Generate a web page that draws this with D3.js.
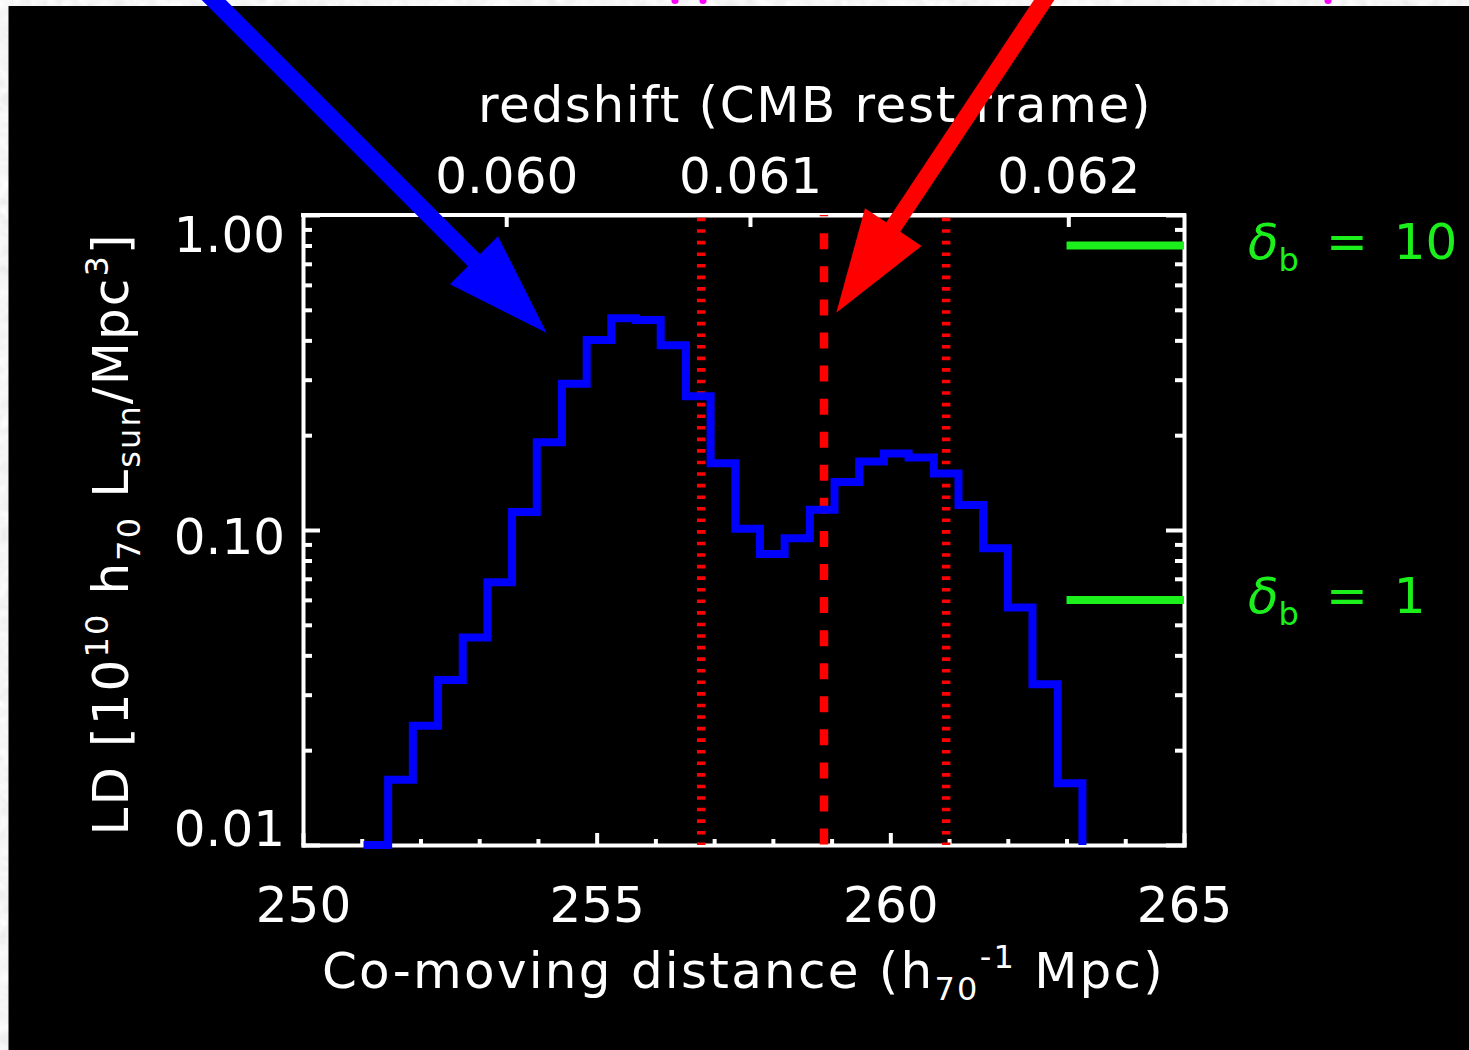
<!DOCTYPE html>
<html>
<head>
<meta charset="utf-8">
<script src="https://cdn.jsdelivr.net/npm/d3@7"></script>
<style>
  html, body { margin: 0; padding: 0; background: #000; }
  svg { display: block; }
</style>
</head>
<body>
<svg id="chart" width="1469" height="1050"></svg>
<script>
// Luminosity density along the line of sight, binned in co-moving distance (h70^-1 Mpc)
const binEdges = [251.03, 251.45, 251.87, 252.30, 252.72, 253.14, 253.56, 253.98, 254.41, 254.83,
                  255.25, 255.67, 256.09, 256.52, 256.94, 257.36, 257.78, 258.20, 258.63, 259.05,
                  259.47, 259.89, 260.31, 260.74, 261.16, 261.58, 262.00, 262.42, 262.85, 263.27];
const luminosityDensity = [0.010, 0.0161, 0.0239, 0.0334, 0.0456, 0.0682, 0.114, 0.190, 0.291, 0.401,
                           0.470, 0.464, 0.386, 0.266, 0.163, 0.101, 0.0839, 0.0941, 0.116, 0.142,
                           0.165, 0.175, 0.170, 0.151, 0.120, 0.0875, 0.0568, 0.0324, 0.0157];

// Bottom axis: co-moving distance
const distanceTicks = [250, 255, 260, 265];
const distanceMinorTicks = [251, 252, 253, 254, 256, 257, 258, 259, 261, 262, 263, 264];

// Left/right axis: luminosity density (log)
const ldTicks = [0.01, 0.1, 1];
const ldTickLabels = ["0.01", "0.10", "1.00"];
const ldMinorTicks = [0.02, 0.03, 0.04, 0.05, 0.06, 0.07, 0.08, 0.09,
                      0.2, 0.3, 0.4, 0.5, 0.6, 0.7, 0.8, 0.9];

// Top axis: redshift in the CMB rest frame and the distance at which each tick sits
const redshiftTicks = [0.060, 0.061, 0.062];
const redshiftTickLabels = ["0.060", "0.061", "0.062"];
const redshiftTickDistance = [253.46, 257.61, 263.03];

// Vertical markers: supercluster centre (dashed) and its extent (dotted)
const markerDistance = [256.78, 258.87, 260.95];
const markerKind = ["dotted", "dashed", "dotted"];

// Overdensity reference levels
const overdensityLabels = ["10", "1"];
const overdensityLD = [0.80, 0.060];
const overdensityStart = 263.0;

// Pointer arrows: tip position (distance, LD) and heading in degrees
const arrowTipDistance = [254.15, 259.08];
const arrowTipLD = [0.422, 0.489];
const arrowHeading = [45, 123.6];
const arrowColor = ["#0000ff", "#ff0000"];

const W = 1469, H = 1050;
const FONT = "'DejaVu Sans', sans-serif";
const svg = d3.select("#chart");

const x = d3.scaleLinear().domain([250, 265]).range([303, 1184]);
const y = d3.scaleLog().domain([0.01, 1]).range([845, 215]);
const xTop = d3.scaleLinear().domain(redshiftTicks).range(redshiftTickDistance.map(x));

// Mottled grey frame behind the black panel
const defs = svg.append("defs");
const grain = defs.append("filter").attr("id", "grain").attr("x", 0).attr("y", 0).attr("width", 1).attr("height", 1);
grain.append("feTurbulence").attr("type", "fractalNoise").attr("baseFrequency", 0.09).attr("numOctaves", 2).attr("seed", 4);
grain.append("feColorMatrix").attr("type", "matrix")
  .attr("values", "0.12 0.12 0.12 0 0.74  0.12 0.12 0.12 0 0.74  0.12 0.12 0.12 0 0.74  0 0 0 0 1");
svg.append("rect").attr("width", W).attr("height", H).attr("fill", "#e6e6e6");
svg.append("rect").attr("width", W).attr("height", H).attr("filter", "url(#grain)");
svg.append("rect").attr("x", 8.5).attr("y", 6).attr("width", W).attr("height", H).attr("fill", "#000");

// Ends of a magenta heading that runs off the top edge
[[675, 1], [703, 1], [1328, 1]].forEach(([cx, cy]) => {
  svg.append("ellipse").attr("cx", cx).attr("cy", cy).attr("rx", 3.5).attr("ry", 3).attr("fill", "#ff00ff");
});

function styleAxis(g) {
  g.attr("font-family", FONT).attr("font-size", 50);
  g.selectAll(".domain").attr("stroke", "#fff").attr("stroke-width", 4).attr("stroke-linecap", "square");
  g.selectAll(".tick line").attr("stroke", "#fff").attr("stroke-width", 4);
  g.selectAll(".tick text").attr("fill", "#fff");
}

// Bottom axis
const gB = svg.append("g").attr("transform", `translate(0,${y(0.01)})`)
  .call(d3.axisBottom(x).tickValues(distanceTicks).tickSizeInner(-12).tickSizeOuter(0).tickFormat(d3.format("d")));
styleAxis(gB);
gB.selectAll(".tick text").attr("y", 0).attr("dy", 77);
const gBm = svg.append("g").attr("transform", `translate(0,${y(0.01)})`)
  .call(d3.axisBottom(x).tickValues(distanceMinorTicks).tickSizeInner(-6).tickSizeOuter(0).tickFormat(""));
styleAxis(gBm); gBm.select(".domain").remove();

// Top axis (redshift)
const gT = svg.append("g").attr("transform", `translate(0,${y(1)})`)
  .call(d3.axisTop(xTop).tickValues(redshiftTicks).tickSizeInner(-12).tickSizeOuter(0)
    .tickFormat((d, i) => redshiftTickLabels[i]));
styleAxis(gT);
gT.selectAll(".tick text").attr("y", -22).attr("dy", 0);
svg.append("line").attr("x1", x(250)).attr("x2", x(265)).attr("y1", y(1)).attr("y2", y(1))
  .attr("stroke", "#fff").attr("stroke-width", 4).attr("stroke-linecap", "square");

// Left axis
const gL = svg.append("g").attr("transform", `translate(${x(250)},0)`)
  .call(d3.axisLeft(y).tickValues(ldTicks).tickSizeInner(-17).tickSizeOuter(0).tickPadding(18)
    .tickFormat((d, i) => ldTickLabels[i]));
styleAxis(gL);
gL.selectAll(".tick text").attr("dy", null).attr("y", d => {
  const c = Math.min(Math.max(y(d) + 5, y(1) + 18), y(0.01) - 18);
  return c - y(d) + 18;
});
const gLm = svg.append("g").attr("transform", `translate(${x(250)},0)`)
  .call(d3.axisLeft(y).tickValues(ldMinorTicks).tickSizeInner(-9).tickSizeOuter(0).tickFormat(""));
styleAxis(gLm); gLm.select(".domain").remove();

// Right axis
const gR = svg.append("g").attr("transform", `translate(${x(265)},0)`)
  .call(d3.axisRight(y).tickValues(ldTicks).tickSizeInner(-18).tickSizeOuter(0).tickFormat(""));
styleAxis(gR);
const gRm = svg.append("g").attr("transform", `translate(${x(265)},0)`)
  .call(d3.axisRight(y).tickValues(ldMinorTicks).tickSizeInner(-9).tickSizeOuter(0).tickFormat(""));
styleAxis(gRm); gRm.select(".domain").remove();

// Axis titles
function fitText(sel, target) {
  const n = sel.text().length;
  const w = sel.node().getComputedTextLength();
  sel.attr("letter-spacing", ((target - w) / n).toFixed(2));
}

const topTitle = svg.append("text").attr("x", 815).attr("y", 122)
  .attr("text-anchor", "middle").attr("font-family", FONT).attr("font-size", 50).attr("fill", "#fff")
  .style("white-space", "pre").text("redshift (CMB rest frame)");
fitText(topTitle, 674);

const xTitle = svg.append("text").attr("x", (x(250) + x(265)) / 2).attr("y", 988)
  .attr("text-anchor", "middle").attr("font-family", FONT).attr("font-size", 50).attr("fill", "#fff");
xTitle.append("tspan").text("Co-moving distance (h");
xTitle.append("tspan").attr("font-size", 32).attr("dy", 12).text("70");
xTitle.append("tspan").attr("font-size", 32).attr("dy", -32).text("-1");
xTitle.append("tspan").attr("dy", 20).text(" Mpc)");
fitText(xTitle, 843);

const yTitle = svg.append("text").attr("transform", `translate(128,${(y(0.01) + y(1)) / 2 + 4}) rotate(-90)`)
  .attr("text-anchor", "middle").attr("font-family", FONT).attr("font-size", 50).attr("fill", "#fff");
yTitle.append("tspan").text("LD [10");
yTitle.append("tspan").attr("font-size", 32).attr("dy", -20).text("10");
yTitle.append("tspan").attr("dy", 20).text(" h");
yTitle.append("tspan").attr("font-size", 32).attr("dy", 12).text("70");
yTitle.append("tspan").attr("dy", -12).text(" L");
yTitle.append("tspan").attr("font-size", 32).attr("dy", 12).text("sun");
yTitle.append("tspan").attr("dy", -12).text("/Mpc");
yTitle.append("tspan").attr("font-size", 32).attr("dy", -20).text("3");
yTitle.append("tspan").attr("dy", 20).text("]");
fitText(yTitle, 603);

// Red vertical markers
const dashStyle = {
  dashed: { width: 8.5, array: "16 17.07", offset: 14.77 },
  dotted: { width: 8.5, array: "3.6 7.97", offset: 8.87 }
};
svg.append("g").selectAll("line").data(markerDistance).join("line")
  .attr("x1", d => x(d)).attr("x2", d => x(d))
  .attr("y1", y(1)).attr("y2", y(0.01))
  .attr("stroke", "#ff0000")
  .attr("stroke-width", (d, i) => dashStyle[markerKind[i]].width)
  .attr("stroke-dasharray", (d, i) => dashStyle[markerKind[i]].array)
  .attr("stroke-dashoffset", (d, i) => dashStyle[markerKind[i]].offset);

// Histogram of luminosity density
const stepPoints = [];
luminosityDensity.forEach((v, i) => {
  stepPoints.push([binEdges[i], v]);
  stepPoints.push([binEdges[i + 1], v]);
});
stepPoints.push([binEdges[binEdges.length - 1], 0.01]);
svg.append("path").datum(stepPoints)
  .attr("d", d3.line().x(d => x(d[0])).y(d => y(d[1])))
  .attr("fill", "none").attr("stroke", "#0000ff").attr("stroke-width", 8)
  .attr("stroke-linejoin", "miter").attr("stroke-linecap", "butt");

// Overdensity reference levels
const GREEN = "#1cf01c";
overdensityLD.forEach((v, i) => {
  svg.append("line").attr("x1", x(overdensityStart)).attr("x2", x(265))
    .attr("y1", y(v)).attr("y2", y(v))
    .attr("stroke", GREEN).attr("stroke-width", 8);
  const t = svg.append("text").attr("x", x(265) + 64).attr("y", y(v) + 13)
    .attr("font-family", FONT).attr("font-size", 50).attr("fill", GREEN);
  t.append("tspan").attr("font-style", "italic").text("\u03b4");
  t.append("tspan").attr("font-size", 32).attr("dy", 12).text("b");
  t.append("tspan").attr("dy", -12).attr("dx", 27).text("=");
  t.append("tspan").attr("dx", 26).text(overdensityLabels[i]);
});

// Pointer arrows
arrowTipDistance.forEach((dist, i) => {
  const tx = x(dist), ty = y(arrowTipLD[i]);
  const a = arrowHeading[i] * Math.PI / 180;
  const ux = Math.cos(a), uy = Math.sin(a), px = -uy, py = ux;
  const headLen = 103, halfW = 34, shaftLen = 440;
  const bx = tx - ux * headLen, by = ty - uy * headLen;
  svg.append("line")
    .attr("x1", bx - ux * shaftLen).attr("y1", by - uy * shaftLen)
    .attr("x2", bx + ux * 4).attr("y2", by + uy * 4)
    .attr("stroke", arrowColor[i]).attr("stroke-width", 17);
  svg.append("path")
    .attr("d", d3.line()([[tx, ty], [bx + px * halfW, by + py * halfW], [bx - px * halfW, by - py * halfW]]) + "Z")
    .attr("fill", arrowColor[i]);
});
</script>
</body>
</html>
